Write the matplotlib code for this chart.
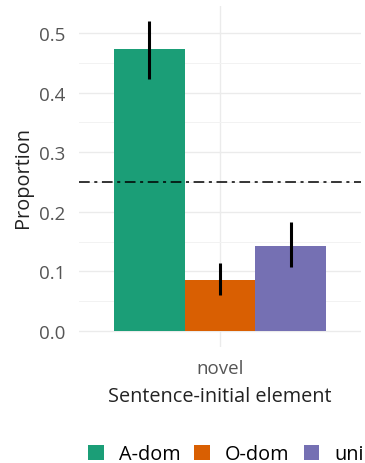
import numpy as np
import matplotlib
matplotlib.use('Agg')
import matplotlib.pyplot as plt
from matplotlib.patches import Patch

plt.rcParams['font.family'] = ['Open Sans', 'DejaVu Sans']

# data
groups = ['A-dom', 'O-dom', 'uni']
colors = ['#1B9E77', '#D95F02', '#7570B3']
props = [0.473, 0.085, 0.143]
lo = [0.423, 0.060, 0.107]
hi = [0.520, 0.114, 0.183]
chance = 0.25
category = 'novel'

W, H = 365, 464
fig = plt.figure(figsize=(W / 100, H / 100), dpi=100)
ax = fig.add_axes([79 / W, (H - 347.5) / H, (361 - 79) / W, (347.5 - 6.6) / H])

width = 0.3
offsets = [-width, 0, width]
for g, c, p, l, h, o in zip(groups, colors, props, lo, hi, offsets):
    ax.bar(1 + o, p, width=width, color=c, zorder=2)
    ax.plot([1 + o, 1 + o], [l, h], color='black', lw=2.2, zorder=3,
            solid_capstyle='butt')

ax.axhline(chance, color='black', lw=1.1, dashes=(7, 3, 2, 3), zorder=4)

ax.set_xlim(0.4, 1.6)
ax.set_ylim(-0.026, 0.546)
ax.set_xticks([1])
ax.set_xticklabels([category])
ax.set_yticks(np.arange(0, 0.51, 0.1))
ax.set_yticks(np.arange(0.05, 0.51, 0.1), minor=True)
ax.yaxis.set_major_formatter(matplotlib.ticker.FormatStrFormatter('%.1f'))

for s in ax.spines.values():
    s.set_visible(False)
ax.grid(True, which='major', color='#EBEBEB', lw=1.0, zorder=0)
ax.grid(True, which='minor', axis='y', color='#F2F2F2', lw=0.7, zorder=0)
ax.set_axisbelow(True)
ax.tick_params(which='both', length=0, labelsize=13.5, labelcolor='#555555')
ax.tick_params(axis='y', pad=10)
ax.tick_params(axis='x', pad=9)

ax.set_ylabel('Proportion', fontsize=14.3, color='#222222', labelpad=4)
ax.set_xlabel('Sentence-initial element', fontsize=14.3, color='#222222', labelpad=6.5)

handles = [Patch(facecolor=c, edgecolor='none') for c in colors]
fig.legend(handles, groups, loc='center left', bbox_to_anchor=(88 / W, 1 - 455 / H),
           ncol=3, frameon=False, fontsize=14.3, handlelength=0.8, handleheight=0.8,
           handletextpad=0.75, columnspacing=0.7, borderaxespad=0, borderpad=0)

fig.savefig('out.png', dpi=100)
